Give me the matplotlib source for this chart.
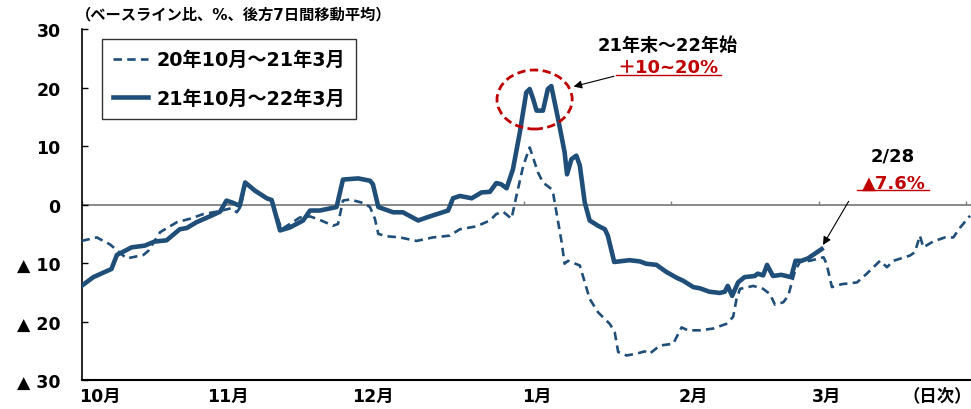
import numpy as np
import matplotlib
matplotlib.use("Agg")
import matplotlib.pyplot as plt
from matplotlib.patches import Ellipse
from matplotlib.lines import Line2D

plt.rcParams['font.family'] = ['DejaVu Sans', 'Noto Sans CJK JP']
plt.rcParams['font.weight'] = 'bold'

# 21年10月～22年3月 (Oct 1 = day 0)
days_2122 = [0.0, 2.4, 6.1, 7.2, 10.2, 12.9, 14.9, 17.3, 20.0, 21.4, 23.4, 26.1, 28.2,
             29.5, 30.9, 32.2, 33.3, 35.3, 37.7, 38.7, 40.4, 42.4, 45.1, 46.5, 48.5,
             51.9, 53.2, 56.3, 58.7, 59.3, 60.4, 63.4, 65.4, 68.5, 70.9, 74.6, 75.6,
             77.0, 79.4, 81.4, 83.1, 84.4, 85.4, 86.5, 87.8, 89.2, 90.5, 91.2, 91.9,
             92.6, 93.9, 94.9, 95.6, 97.0, 98.3, 98.8, 99.7, 100.7, 101.4, 102.4,
             103.4, 105.1, 106.5, 107.1, 108.4, 111.5, 113.6, 114.9, 117.0, 119.0,
             121.1, 122.4, 124.5, 125.8, 127.8, 129.9, 130.9, 131.5, 132.4, 133.6,
             134.9, 137.0, 137.6, 138.7, 139.5, 140.7, 142.4, 143.4, 144.4, 145.3,
             146.5, 147.8, 149.2, 150.6]
vals_2122 = [-13.9, -12.4, -11.0, -8.6, -7.3, -7.0, -6.3, -6.1, -4.2, -4.0, -3.0, -2.0, -1.2,
             0.7, 0.3, -0.2, 3.8, 2.4, 1.1, 0.8, -4.4, -3.9, -2.7, -1.0, -1.0,
             -0.4, 4.3, 4.5, 4.1, 3.5, -0.4, -1.3, -1.3, -2.7, -2.0, -1.0, 1.1,
             1.5, 1.1, 2.1, 2.2, 3.7, 3.5, 2.8, 6.1, 12.4, 19.2, 19.8, 18.1,
             16.1, 16.1, 19.8, 20.3, 14.6, 9.0, 5.2, 7.8, 8.4, 6.7, 0.4,
             -2.7, -3.6, -4.2, -5.3, -9.8, -9.5, -9.7, -10.1, -10.3, -11.5,
             -12.5, -13.0, -14.1, -14.3, -14.9, -15.1, -14.9, -13.9, -15.6, -13.3,
             -12.4, -12.2, -11.8, -12.1, -10.3, -12.2, -12.0, -12.2, -12.4, -9.6,
             -9.6, -9.2, -8.4, -7.6]

# 20年10月～21年3月
days_2021 = [0.0, 3.1, 5.8, 9.2, 12.6, 13.6, 16.0, 19.4, 22.1, 24.8, 27.5, 30.5, 31.6,
             32.4, 33.3, 35.3, 37.7, 38.7, 40.7, 42.4, 44.4, 46.5, 48.5, 51.2, 52.2,
             53.2, 54.6, 57.3, 58.7, 59.7, 60.4, 62.1, 64.8, 68.2, 71.5, 74.9, 77.0,
             80.4, 83.1, 84.4, 85.8, 87.5, 88.5, 89.9, 91.2, 92.9, 93.9, 95.6, 96.0,
             97.7, 98.3, 99.0, 101.4, 103.4, 105.1, 107.5, 108.5, 109.2, 110.9, 112.9,
             114.6, 115.6, 117.7, 120.4, 122.1, 123.4, 125.8, 128.5, 131.2, 132.6,
             133.3, 134.0, 136.7, 138.7, 140.1, 141.1, 142.8, 143.8, 145.2, 146.2,
             148.2, 149.6, 151.0, 151.6, 152.7, 154.7, 157.8, 159.8, 162.5, 163.9,
             165.2, 168.6, 169.6, 170.6, 171.3, 173.3, 175.7, 177.4, 178.8, 180.8]
vals_2021 = [-6.2, -5.6, -6.8, -9.2, -8.6, -7.9, -4.7, -3.0, -2.4, -1.6, -1.2, -0.6, -1.3,
             -0.3, 3.6, 2.3, 1.0, 0.7, -4.2, -3.3, -2.2, -2.0, -2.6, -3.6, -3.3,
             0.7, 0.9, 0.3, -0.4, -2.4, -5.0, -5.4, -5.6, -6.2, -5.6, -5.3, -4.2,
             -3.7, -2.7, -1.6, -1.2, -2.4, 1.5, 6.7, 9.8, 5.5, 3.8, 2.7, 1.8,
             -6.4, -10.1, -9.6, -10.4, -16.1, -18.4, -20.4, -21.8, -25.2, -25.8, -25.5,
             -25.1, -25.5, -24.1, -23.8, -21.0, -21.5, -21.5, -21.2, -20.4, -19.2,
             -16.1, -14.4, -13.9, -14.4, -15.3, -17.1, -16.7, -15.6, -11.3, -9.8,
             -9.6, -9.3, -9.0, -10.1, -14.1, -13.6, -13.3, -11.8, -9.6, -10.7,
             -9.6, -8.7, -8.1, -5.3, -7.3, -6.3, -5.6, -5.6, -3.9, -1.9]

month_labels = ["10月", "11月", "12月", "1月", "2月", "3月", "（日次）"]
month_pos = [3.8, 29.8, 59.3, 92.7, 124.6, 151.7, 174.2]
y_ticks = [-30, -20, -10, 0, 10, 20, 30]
y_labels = ["▲ 30", "▲ 20", "▲ 10", "0", "10", "20", "30"]

blue = '#1F4E79'
red = '#C00000'

fig = plt.figure(figsize=(9.71, 4.10), dpi=100)
ax = fig.add_axes([81.5 / 971, 29 / 410, 1 - 81.5 / 971, (381 - 30.4) / 410])

ax.axhline(0, color='#808080', lw=1.3, zorder=1)
ax.vlines(np.arange(0, 181, 30), 0, 0.7, color='#808080', lw=1.0, zorder=1)

ax.plot(days_2021, vals_2021, color=blue, lw=1.9, dashes=(3.2, 2.0),
        label='20年10月～21年3月', zorder=3)
ax.plot(days_2122, vals_2122, color=blue, lw=3.3, solid_joinstyle='round',
        label='21年10月～22年3月', zorder=4)

ax.set_xlim(0, 181)
ax.set_ylim(-30, 30)
ax.set_xticks([])
ax.set_yticks(y_ticks)
ax.set_yticklabels(y_labels)
ax.tick_params(axis='y', direction='in', length=4, width=1, labelsize=12.5, pad=15)
for s in ['top', 'right']:
    ax.spines[s].set_visible(False)
ax.spines['left'].set_linewidth(1.2)
ax.spines['bottom'].set_linewidth(1.5)

for lab, p in zip(month_labels, month_pos):
    ax.text(p, -0.045, lab, transform=ax.get_xaxis_transform(), ha='center', va='center',
            fontsize=12.5, fontweight='bold')

leg = ax.legend(loc='upper left', bbox_to_anchor=(0.0227, 0.973), fontsize=13.8,
                frameon=True, fancybox=False, edgecolor='black', handlelength=1.8,
                labelspacing=1.0, borderpad=0.6, handletextpad=0.45, borderaxespad=0)
leg.get_frame().set_linewidth(1.0)

fig.text(76 / 971, 1 - 15 / 410, '（ベースライン比、%、後方7日間移動平均）',
         ha='left', va='center', fontsize=11, fontweight='bold')

# peak annotation
ax.add_patch(Ellipse((92.2, 18.0), 15.3, 10.1, fill=False, edgecolor=red, lw=2.0,
                     ls=(0, (3, 1.6)), zorder=5))
ax.text(119.2, 27.3, '21年末～22年始', ha='center', va='center', fontsize=13, fontweight='bold')
ax.text(119.3, 23.6, '＋10~20%', ha='center', va='center', fontsize=13,
        fontweight='bold', color=red)
ax.add_line(Line2D([108.8, 130.1], [22.2, 22.2], color=red, lw=1.0))
ax.annotate('', xy=(99.6, 20.1), xytext=(108.9, 22.1),
            arrowprops=dict(arrowstyle='-|>', color='black', lw=0.8, mutation_scale=12))

# latest annotation
ax.text(165.1, 8.4, '2/28', ha='center', va='center', fontsize=13, fontweight='bold')
ax.text(165.3, 3.8, '▲7.6%', ha='center', va='center', fontsize=13,
        fontweight='bold', color=red)
ax.add_line(Line2D([157.8, 172.5], [2.5, 2.5], color=red, lw=1.0))
ax.annotate('', xy=(150.6, -7.3), xytext=(156.4, 1.0),
            arrowprops=dict(arrowstyle='-|>', color='black', lw=0.8, mutation_scale=12))

fig.savefig('out.png', dpi=100)
